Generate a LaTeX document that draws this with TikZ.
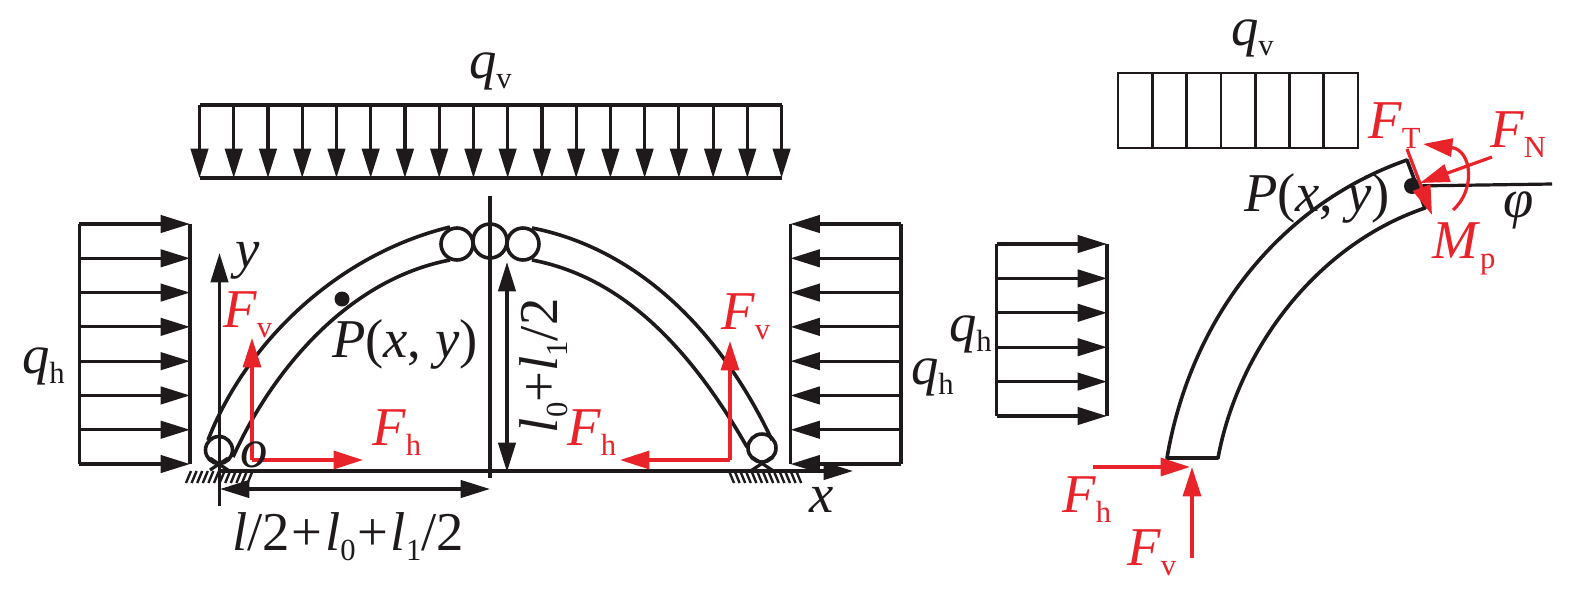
\documentclass[tikz,border=0pt]{standalone}
\usepackage{fontspec}
\setmainfont{Liberation Serif}
\usetikzlibrary{arrows.meta}
\definecolor{fred}{HTML}{E8232A}
\definecolor{ink}{HTML}{1E1A1B}
\newcommand{\bigf}{\fontsize{41}{41}\selectfont}
\newcommand{\subs}[1]{\raisebox{-7.8pt}{\fontsize{23}{23}\selectfont #1}}
\newcommand{\plusgap}{\hspace{1.7pt}+\hspace{1.7pt}}
\tikzset{
  lab/.style={anchor=base west,inner sep=0pt,outer sep=0pt,text=ink,font=\bigf},
  rlab/.style={lab,text=fred},
  ln/.style={draw=ink,line width=2.4pt},
  boxln/.style={draw=ink,line width=2pt},
  curveln/.style={draw=ink,line width=2.7pt},
  arr/.style={ln,-{Triangle[length=22pt,width=13pt]}},
  darr/.style={ln,{Triangle[length=22pt,width=13pt]}-{Triangle[length=22pt,width=13pt]}},
  rarr/.style={draw=fred,line width=2.4pt,-{Triangle[length=22pt,width=13.5pt]}},
  hatch/.style={draw=ink,line width=1.8pt},
}
\begin{document}
\begin{tikzpicture}[x=0.75pt,y=-0.75pt]
\useasboundingbox (0,0) rectangle (1575,594);
% top load, left
\draw[ln] (199.5,105) -- (781.5,105);
\draw[ln] (199.5,178) -- (781.5,178);
\foreach \i in {0,...,17} \draw[arr] ({199.5+\i*34.24},105) -- ({199.5+\i*34.24},178);
% side loads, left
\draw[ln] (79.4,224) -- (79.4,464);
\draw[ln] (190,224) -- (190,464);
\foreach \i in {0,...,7} \draw[arr] (79.4,{224+\i*34.29}) -- (190,{224+\i*34.29});
\draw[ln] (901,224) -- (901,464);
\draw[ln] (790.5,224) -- (790.5,464);
\foreach \i in {0,...,7} \draw[arr] (901,{224+\i*34.29}) -- (790.5,{224+\i*34.29});
% arches
\draw[curveln] (208,440) .. controls (245,345) and (335,255) .. (450,227);
\draw[curveln] (233,457) .. controls (270,375) and (345,280) .. (450,260);
\draw[curveln] (532,228) .. controls (620,245) and (710,310) .. (772,440);
\draw[curveln] (532,260) .. controls (610,275) and (680,330) .. (747,447);
% hinges
\draw[curveln] (457,244) circle (16);
\draw[curveln] (490,241) circle (17);
\draw[curveln] (523,244) circle (16);
\draw[curveln] (219,450) circle (13.5);
\draw[curveln] (762,448) circle (14);
% supports
\draw[ln] (210,470) -- (228,458);
\draw[ln] (228,470) -- (210,458);
\draw[ln] (752,470) -- (772,457);
\draw[ln] (772,470) -- (752,457);
\foreach \i in {0,...,11} \draw[hatch] ({186+\i*5.6},483) -- ({191+\i*5.6},471);
\foreach \i in {0,...,12} \draw[hatch] ({734+\i*5.6},483) -- ({729+\i*5.6},471);
% axes and dimensions
\draw[arr] (219,471) -- (853,471);
\draw[arr] (219.5,506) -- (219.5,253);
\draw[ln] (490,196) -- (490,478);
\draw[darr] (507,472) -- (507,262);
\draw[darr] (220,489) -- (490,489);
% left reactions
\draw[rarr] (252,460) -- (252,338);
\draw[rarr] (252,460) -- (363,460);
\draw[rarr] (730,460) -- (730,341);
\draw[rarr] (730,460) -- (620,460);
\fill[ink] (342,299) circle (7.5);
% left labels
\node[lab] (qv1) at (469,78) {\textit{q}\subs{v}};
\node[lab] (y1) at (235,267) {\textit{y}};
\node[lab] (o1) at (240,467) {\textit{o}};
\node[lab] (P1) at (332,357) {\textit{P}(\textit{x}, \textit{y})};
\node[lab,rotate=90] (d1) at (557,433) {\textit{l}\subs{0}+\textit{l}\subs{1}/2};
\node[lab] (d2) at (232,550) {\textit{l}/2\plusgap\textit{l}\subs{0}\plusgap\textit{l}\subs{1}/2};
\node[lab] (qh1) at (22,373) {\textit{q}\subs{h}};
\node[lab] (qh2) at (911,384) {\textit{q}\subs{h}};
\node[lab] (x1) at (809,512) {\textit{x}};
\node[rlab] (Fv1) at (223,327) {\textit{F}\subs{v}};
\node[rlab] (Fh1) at (372,445) {\textit{F}\subs{h}};
\node[rlab] (Fh2) at (567,445) {\textit{F}\subs{h}};
\node[rlab] (Fv2) at (721,329) {\textit{F}\subs{v}};
% right figure: loads
\draw[boxln] (1118,73) rectangle (1358,148);
\foreach \i in {1,...,6} \draw[boxln] ({1118+\i*34.3},73) -- ({1118+\i*34.3},148);
\draw[ln] (996.5,244) -- (996.5,416);
\draw[ln] (1107,244) -- (1107,416);
\foreach \i in {0,...,5} \draw[arr] (996.5,{244+\i*34.4}) -- (1107,{244+\i*34.4});
% right figure: arch segment
\draw[curveln,line join=round] (1167,458) .. controls (1190,322) and (1276,206) .. (1407,160) -- (1425,208) .. controls (1316,245) and (1238,350) .. (1218,458) -- cycle;
\draw[ln] (1412,186) -- (1552,184);
\fill[ink] (1412,186) circle (8);
% right figure: section forces
\draw[rarr] (1407,149) -- (1432,215);
\draw[rarr] (1492,157) -- (1420,183);
\draw[rarr] (1453,210) .. controls (1476,190) and (1472,150) .. (1423,144);
\draw[rarr] (1093,467) -- (1190,467);
\draw[rarr] (1192,558) -- (1192,467);
% right labels
\node[lab] (qv2) at (1231,45) {\textit{q}\subs{v}};
\node[lab] (qh3) at (949,341) {\textit{q}\subs{h}};
\node[lab] (P2) at (1244,211) {\textit{P}(\textit{x}, \textit{y})};
\node[lab] (phi) at (1503,217) {\textit{φ}};
\node[rlab] (FT) at (1368,138) {\textit{F}\subs{T}};
\node[rlab] (FN) at (1490,147) {\textit{F}\subs{N}};
\node[rlab] (Mp) at (1432,258) {\textit{M}\subs{p}};
\node[rlab] (Fh3) at (1062,512) {\textit{F}\subs{h}};
\node[rlab] (Fv3) at (1127,565) {\textit{F}\subs{v}};
\end{tikzpicture}
\end{document}
